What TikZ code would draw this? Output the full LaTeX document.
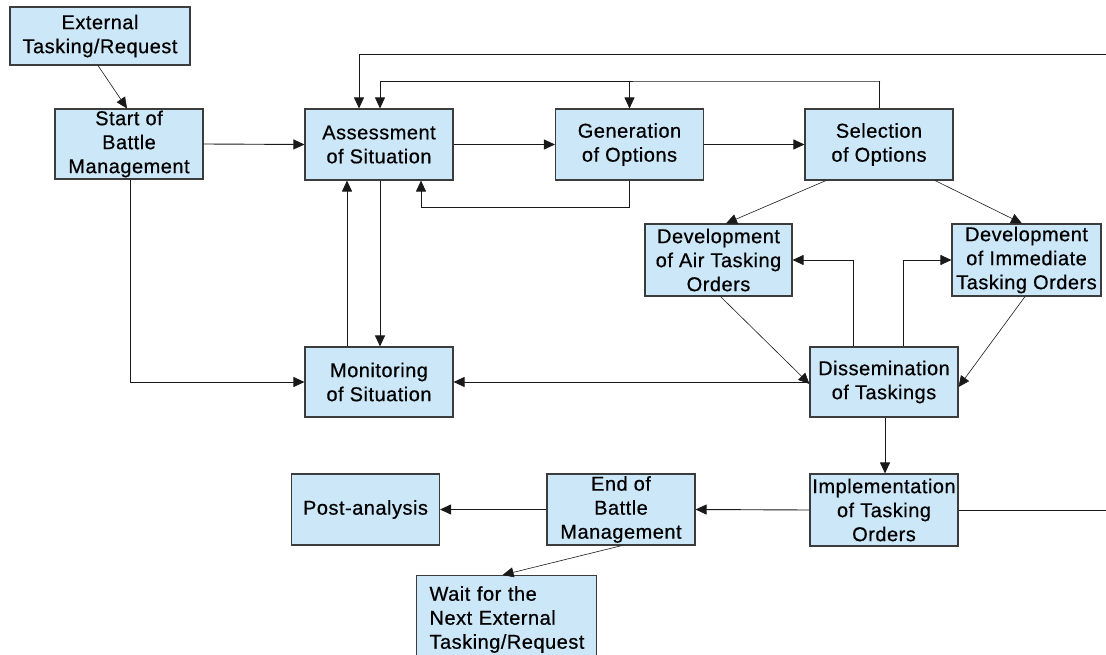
\documentclass[tikz,border=0pt]{standalone}
\usepackage{fontspec}
\setmainfont{Liberation Sans}[FakeBold=0.6, LetterSpace=2.5]
\usetikzlibrary{arrows.meta}
\definecolor{boxfill}{RGB}{204,232,248}
\definecolor{boxline}{RGB}{60,60,60}
\definecolor{wire}{RGB}{25,25,25}
\tikzset{
  procbox/.style={draw=boxline, line width=1.1pt, fill=boxfill, inner sep=0pt,
    minimum width=148pt, minimum height=71pt, align=center,
    font=\fontsize{20}{24}\selectfont},
  flow/.style={draw=wire, line width=0.9pt, -{Triangle[length=11pt,width=10pt]}},
  thinflow/.style={draw=wire, line width=0.6pt, -{Triangle[length=11pt,width=10pt]}},
  plain/.style={draw=wire, line width=0.9pt}
}
\begin{document}
\begin{tikzpicture}[x=1pt,y=-1pt]
\useasboundingbox (0,0) rectangle (1106,655);

% process boxes
\node[procbox, minimum width=180pt, minimum height=58pt] (ext) at (100,36) {External\\Tasking/Request};
\node[procbox, minimum height=70pt] (start) at (129,144) {Start of\\Battle\\Management};
\node[procbox] (assess) at (379,144.5) {Assessment\\of Situation};
\node[procbox] (gen) at (629.5,144.5) {Generation\\of Options};
\node[procbox] (sel) at (879,144.5) {Selection\\of Options};
\node[procbox, minimum width=147pt, minimum height=72pt] (air) at (718.5,260) {Development\\of Air Tasking\\Orders};
\node[procbox, minimum width=149pt, minimum height=72pt] (imm) at (1026.5,260) {Development\\of Immediate\\Tasking Orders};
\node[procbox, minimum height=70pt] (mon) at (379,382) {Monitoring\\of Situation};
\node[procbox, minimum height=70pt] (dis) at (884,382) {Dissemination\\of Taskings};
\node[procbox, minimum height=72pt] (impl) at (884,510) {Implementation\\of Tasking\\Orders};
\node[procbox] (endbm) at (621,509.5) {End of\\Battle\\Management};
\node[procbox] (post) at (365.5,509.5) {Post-analysis};
\node[procbox, anchor=north west, minimum width=180pt, minimum height=88pt,
      text width=154pt, align=left] (wait) at (416,575) {Wait for the\\Next External\\Tasking/Request};

% free ends at the right border
\coordinate (topright) at (1106,54);
\coordinate (loopturn) at (880,81);
\coordinate (implright) at (1106,510);

% connectors
\draw[thinflow] ([xshift=-2pt]ext.south) -- ([xshift=-2pt]start.north);
\draw[flow] (start.east) -- (assess.west);
\draw[flow] (assess.east) -- (gen.west);
\draw[flow] (gen.east) -- (sel.west);

\draw[flow] (topright) -| ([xshift=-20pt]assess.north);
\draw[flow] (sel.north) |- (loopturn) -| ([xshift=1pt]assess.north);
\draw[flow] (gen.north |- loopturn) -- (gen.north);
\draw[flow] (gen.south) -- ++(0,27) -| ([xshift=42pt]assess.south);

\draw[thinflow] ([xshift=-53pt]sel.south) -- ([xshift=7.5pt]air.north);
\draw[thinflow] ([xshift=56pt]sel.south) -- ([xshift=-4.5pt]imm.north);

\draw[flow] ([xshift=-31pt]dis.north) |- (air.east);
\draw[flow] ([xshift=19pt]dis.north) |- (imm.west);
\draw[thinflow] ([xshift=2pt]air.south) -- ([yshift=-2pt]dis.west);
\draw[thinflow] ([xshift=-1.5pt]imm.south) -- ([yshift=-5pt]dis.east);

\draw[flow] (dis.west) -- (mon.east);
\draw[flow] ([xshift=-32pt]mon.north) -- ([xshift=-32pt]assess.south);
\draw[flow] ([xshift=1pt]assess.south) -- ([xshift=1pt]mon.north);
\draw[flow] ([xshift=1pt]start.south) |- (mon.west);

\draw[flow] ([xshift=1pt]dis.south) -- ([xshift=1pt]impl.north);
\draw[plain] (impl.east) -- (implright);
\draw[flow] (impl.west) -- (endbm.east);
\draw[flow] (endbm.west) -- (post.east);
\draw[thinflow] ([xshift=1pt]endbm.south) -- ([xshift=-4pt]wait.north);
\end{tikzpicture}
\end{document}
